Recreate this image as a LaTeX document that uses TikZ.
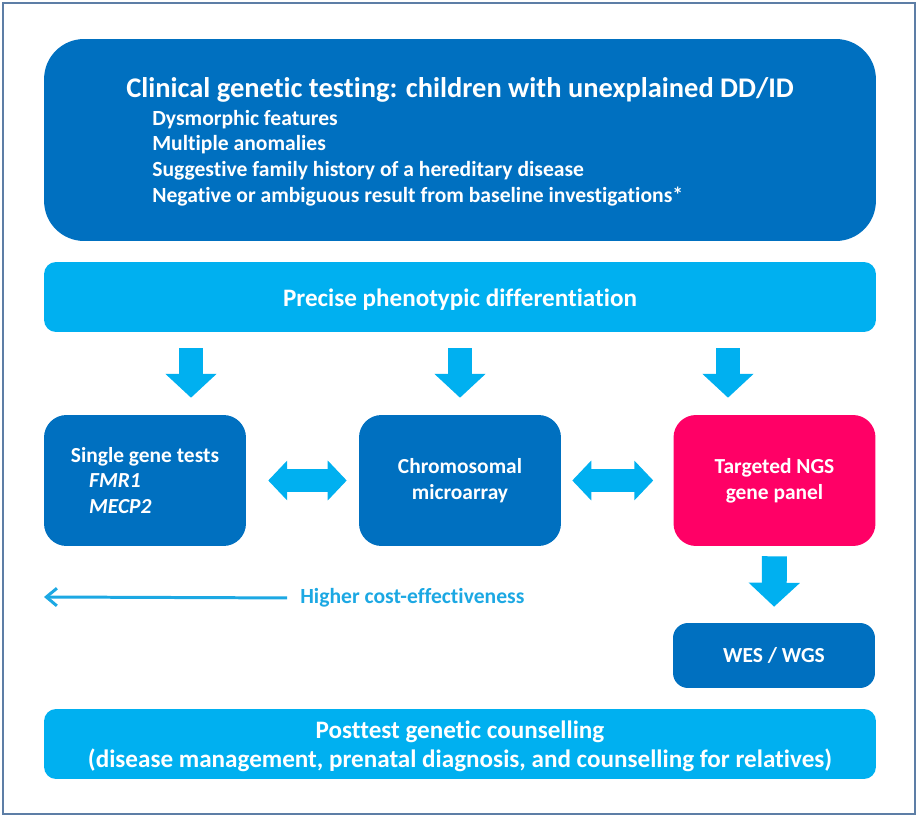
\documentclass[tikz,border=0pt]{standalone}
\usepackage{fontspec}
\setmainfont{Carlito}[Ligatures=NoCommon]
\usetikzlibrary{arrows.meta}

\definecolor{darkblue}{HTML}{0070C0}
\definecolor{lightblue}{HTML}{00B0F0}
\definecolor{hotpink}{HTML}{FF0066}
\definecolor{costblue}{HTML}{1CA8E3}
\definecolor{framegray}{HTML}{5D7EA6}

\tikzset{
  box/.style={text=white, inner sep=0pt, align=center,
    font=\bfseries\fontsize{12.2}{14.7}\selectfont},
  wide/.style={minimum width=16.64cm, minimum height=1.4cm, rounded corners=0.24cm},
  test/.style={minimum width=4.04cm, minimum height=2.62cm, rounded corners=0.45cm},
  fatdown/.style={lightblue, line width=14.2pt,
    -{Triangle[width=28.4pt,length=13.6pt]}},
  fatboth/.style={lightblue, line width=13pt,
    {Triangle[width=22.1pt,length=10.8pt]}-{Triangle[width=22.1pt,length=10.8pt]}},
}

\begin{document}
\begin{tikzpicture}[x=0.02cm, y=-0.02cm]

\useasboundingbox (0,0) rectangle (921,817);
\draw [framegray, line width=1pt] (3,3) rectangle (915,814);

\coordinate (A) at (460,140);
\coordinate (B) at (460,297);
\coordinate (C) at (145,480.5);
\coordinate (D) at (460,480.5);
\coordinate (E) at (774.5,480.5);
\coordinate (F) at (774,655.5);
\coordinate (G) at (460,744);
\coordinate (H) at (44,597);

% boxes
\node [box, fill=darkblue, minimum width=16.64cm, minimum height=4.04cm,
  rounded corners=0.8cm] (clin) at (A) {};
\node [box, font=\bfseries\fontsize{16.2}{19}\selectfont] (clintitle) at (460,90)
  {Clinical genetic testing: children with unexplained DD/ID};
\node [box, align=left, anchor=west, font=\bfseries\fontsize{12.3}{14.7}\selectfont]
  (crit) at (152,158)
  {Dysmorphic features\\
   Multiple anomalies\\
   Suggestive family history of a hereditary disease\\
   Negative or ambiguous result from baseline investigations*};

\node [box, wide, fill=lightblue, text height=13.6pt, text depth=3pt,
  font=\bfseries\fontsize{14.3}{16}\selectfont] (prec) at (B)
  {Precise phenotypic differentiation};

\node [box, test, fill=darkblue, align=left] (sg) at (C)
  {Single gene tests\\
   \hspace*{0.85em}\textit{FMR1}\\
   \hspace*{0.85em}\textit{MECP2}};
\node [box, test, fill=darkblue] (chrom) at (D) {Chromosomal\\microarray};
\node [box, test, fill=hotpink] (ngs) at (E) {Targeted NGS\\gene panel};

\node [box, fill=darkblue, minimum width=4.04cm, minimum height=1.3cm,
  rounded corners=0.3cm] (wes) at (F) {WES / WGS};

\node [box, wide, fill=lightblue, font=\bfseries\fontsize{14.3}{16.4}\selectfont] (post) at (G)
  {\rule{0pt}{13pt}Posttest genetic counselling\\
   (disease management, prenatal diagnosis, and counselling for relatives)};

% arrows
\draw [fatdown, shorten <=16*0.567pt, shorten >=17*0.567pt] (191,0 |- prec.south) -- (191,0 |- sg.north);
\draw [fatdown, shorten <=16*0.567pt, shorten >=17*0.567pt] (460,0 |- prec.south) -- (460,0 |- chrom.north);
\draw [fatdown, shorten <=16*0.567pt, shorten >=17*0.567pt] (728,0 |- prec.south) -- (728,0 |- ngs.north);
\draw [fatdown, shorten <=10*0.567pt, shorten >=16*0.567pt] (ngs.south) -- (wes.north);

\draw [fatboth, shorten <=22*0.567pt, shorten >=12*0.567pt] (sg.east) -- (chrom.west);
\draw [fatboth, shorten <=11*0.567pt, shorten >=20*0.567pt] (chrom.east) -- (ngs.west);

\node [text=costblue, font=\bfseries\fontsize{12.3}{14}\selectfont, anchor=west,
  inner sep=0pt] (cost) at (300,598) {Higher cost-effectiveness};
\draw [costblue, line width=1.7pt, -{Straight Barb[length=6pt,width=10pt]},
  shorten <=13*0.567pt] (cost.west) -- (H);

\end{tikzpicture}
\end{document}
